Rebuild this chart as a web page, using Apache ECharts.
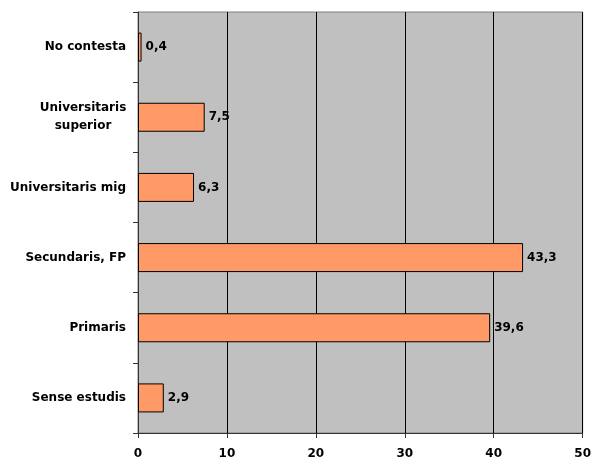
<!DOCTYPE html>
<html><head><meta charset="utf-8">
<script src="https://cdn.jsdelivr.net/npm/echarts@6/dist/echarts.min.js"></script>
<style>html,body{margin:0;padding:0;background:#fff}#c{width:594px;height:461px}</style>
</head><body><div id="c"></div>
<script>
const categories = ['Sense estudis', 'Primaris', 'Secundaris, FP', 'Universitaris mig', 'Universitaris\nsuperior', 'No contesta'];
const values = [2.9, 39.6, 43.3, 6.3, 7.5, 0.4];
const xTicks = [0, 10, 20, 30, 40, 50];

const chart = echarts.init(document.getElementById('c'));
const font = 'DejaVu Sans';
chart.setOption({
  animation: false,
  grid: { left: 138, right: 7, top: 12, bottom: 28, show: true, backgroundColor: '#C0C0C0', borderColor: '#808080', borderWidth: 1 },
  xAxis: {
    type: 'value', min: xTicks[0], max: xTicks[xTicks.length - 1], interval: 10,
    axisLine: { show: true, lineStyle: { color: '#333', width: 1 } },
    axisTick: { show: true, length: 5, lineStyle: { color: '#333' } },
    splitLine: { show: true, lineStyle: { color: '#000', width: 1 } },
    axisLabel: { color: '#000', fontFamily: font, fontWeight: 'bold', fontSize: 12, margin: 15 }
  },
  yAxis: {
    type: 'category', data: categories,
    axisLine: { show: true, lineStyle: { color: '#333', width: 1 } },
    axisTick: { show: true, length: 5, alignWithLabel: false, lineStyle: { color: '#333' } },
    axisLabel: {
      color: '#000', fontFamily: font, fontWeight: 'bold', fontSize: 12, margin: 12, align: 'right',
      formatter: v => v.indexOf('\n') >= 0 ? v.split('\n').map(s => '{m|' + s + '}').join('\n') : v,
      rich: { m: { width: 86, align: 'center', fontFamily: font, fontWeight: 'bold', fontSize: 12, color: '#000', lineHeight: 18 } }
    }
  },
  series: [{
    type: 'bar', data: values, barWidth: 29,
    itemStyle: { color: '#FF9966', borderColor: '#000', borderWidth: 1 },
    label: { show: true, position: 'right', distance: 4, color: '#000', fontFamily: font, fontWeight: 'bold', fontSize: 12,
      formatter: p => p.value.toFixed(1).replace('.', ',') }
  }]
});
</script></body></html>
